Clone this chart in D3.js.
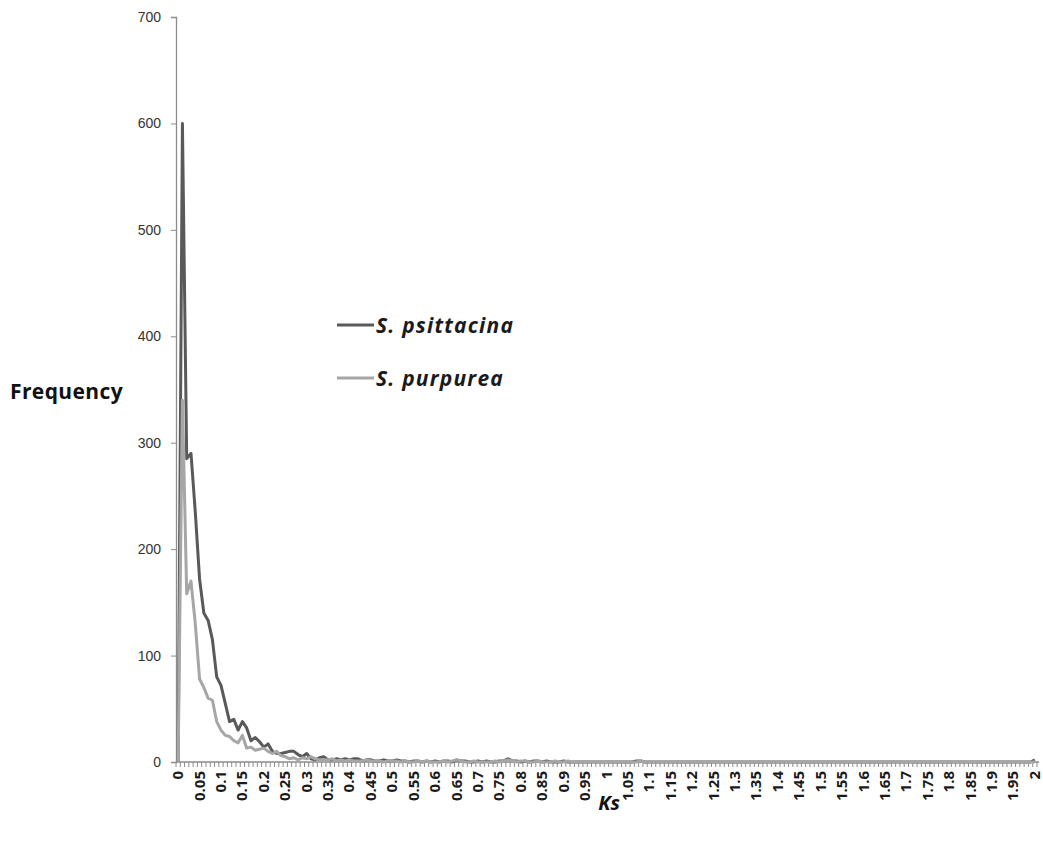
<!DOCTYPE html>
<html>
<head>
<meta charset="utf-8">
<script src="https://cdn.jsdelivr.net/npm/d3@7"></script>
<style>
  body { margin: 0; background: #fff; }
  svg { font-family: "Open Sans", sans-serif; }
</style>
</head>
<body>
<div id="chart"></div>
<script>
// Ks bins of 0.01 from 0 to 2
const ksBins = d3.range(0, 201).map((i) => +(i / 100).toFixed(2));
const yTicks = [0, 100, 200, 300, 400, 500, 600, 700];

const psittacina = [
  0, 600, 285, 290, 235, 172, 140, 133, 115, 80,
  72, 55, 38, 40, 30, 38, 32, 20, 23, 19,
  14, 17, 10, 8, 8, 9, 10, 10, 7, 5,
  8, 3, 2, 4, 5, 2, 2, 3, 2, 3,
  2, 3, 3, 1, 2, 2, 1, 1, 2, 1,
  1, 2, 1, 1, 0, 1, 1, 0, 1, 0,
  1, 0, 1, 1, 0, 2, 1, 1, 0, 0,
  1, 0, 1, 0, 0, 1, 1, 3, 1, 1,
  0, 1, 0, 1, 1, 0, 1, 0, 0, 0,
  1, 0, 0, 0, 0, 0, 0, 0, 0, 0,
  0, 0, 0, 0, 0, 0, 0, 1, 1, 0,
  0, 0, 0, 0, 0, 0, 0, 0, 0, 0,
  0, 0, 0, 0, 0, 0, 0, 0, 0, 0,
  0, 0, 0, 0, 0, 0, 0, 0, 0, 0,
  0, 0, 0, 0, 0, 0, 0, 0, 0, 0,
  0, 0, 0, 0, 0, 0, 0, 0, 0, 0,
  0, 0, 0, 0, 0, 0, 0, 0, 0, 0,
  0, 0, 0, 0, 0, 0, 0, 0, 0, 0,
  0, 0, 0, 0, 0, 0, 0, 0, 0, 0,
  0, 0, 0, 0, 0, 0, 0, 0, 0, 0,
  2
];

const purpurea = [
  0, 340, 158, 170, 130, 78, 70, 60, 58, 38,
  30, 25, 24, 20, 18, 25, 13, 14, 11, 12,
  13, 10, 8, 10, 6, 5, 3, 4, 2, 4,
  3, 5, 3, 2, 2, 2, 3, 1, 2, 1,
  2, 1, 1, 1, 2, 1, 1, 1, 0, 1,
  1, 1, 0, 1, 0, 0, 1, 0, 1, 0,
  0, 0, 1, 0, 1, 2, 1, 0, 0, 1,
  0, 0, 0, 0, 1, 0, 1, 2, 1, 0,
  1, 1, 0, 0, 1, 0, 0, 0, 1, 0,
  0, 1, 0, 0, 0, 0, 0, 0, 0, 0,
  0, 0, 0, 0, 0, 0, 0, 0, 1, 0,
  0, 0, 0, 0, 0, 0, 0, 0, 0, 0,
  0, 0, 0, 0, 0, 0, 0, 0, 0, 0,
  0, 0, 0, 0, 0, 0, 0, 0, 0, 0,
  0, 0, 0, 0, 0, 0, 0, 0, 0, 0,
  0, 0, 0, 0, 0, 0, 0, 0, 0, 0,
  0, 0, 0, 0, 0, 0, 0, 0, 0, 0,
  0, 0, 0, 0, 0, 0, 0, 0, 0, 0,
  0, 0, 0, 0, 0, 0, 0, 0, 0, 0,
  0, 0, 0, 0, 0, 0, 0, 0, 0, 0,
  0
];

const seriesNames = ["S. psittacina", "S. purpurea"];
const seriesColors = ["#595959", "#a6a6a6"];

const W = 1043, H = 842;
const margin = { top: 17, right: 6, bottom: 80, left: 176 };
const width = W - margin.left - margin.right;
const height = H - margin.top - margin.bottom;

const svg = d3.select("#chart").append("svg")
  .attr("width", W).attr("height", H);
const g = svg.append("g")
  .attr("transform", `translate(${margin.left},${margin.top})`);

const x = d3.scaleBand().domain(ksBins).range([0, width]).padding(0);
const y = d3.scaleLinear().domain([0, 700]).range([height, 0]);
const axisColor = "#8c8c8c";

// y axis
const yAxis = g.append("g")
  .call(d3.axisLeft(y).tickValues(yTicks).tickSize(5).tickPadding(10));
yAxis.select(".domain").attr("stroke", axisColor).attr("stroke-width", 1.3);
yAxis.selectAll(".tick line").attr("stroke", axisColor);
yAxis.selectAll("text").attr("fill", "#333").style("font-size", "14px");

// x axis: tick marks between categories, labels every 0.05
const xg = g.append("g").attr("transform", `translate(0,${height})`);
xg.append("line").attr("x1", 0).attr("x2", width + 2)
  .attr("stroke", axisColor).attr("stroke-width", 1.3);
xg.selectAll("line.tk").data(d3.range(ksBins.length + 1)).join("line")
  .attr("class", "tk")
  .attr("x1", (i) => i * x.step()).attr("x2", (i) => i * x.step())
  .attr("y1", 0).attr("y2", 5)
  .attr("stroke", axisColor);
xg.selectAll("text").data(ksBins.filter((d, i) => i % 5 === 0)).join("text")
  .attr("transform", (d) => `translate(${x(d) + x.bandwidth() / 2 + 5},9) rotate(-90)`)
  .attr("text-anchor", "end")
  .attr("font-weight", "bold")
  .attr("fill", "#1a1a1a")
  .style("font-size", "15px")
  .text((d) => String(d));

// lines
const line = d3.line()
  .x((d, i) => x(ksBins[i]) + x.bandwidth() / 2)
  .y((d) => y(d));
[psittacina, purpurea].forEach((s, k) => {
  g.append("path").datum(s)
    .attr("fill", "none")
    .attr("stroke", seriesColors[k])
    .attr("stroke-width", 3)
    .attr("stroke-linejoin", "round")
    .attr("d", line);
});

// legend
const legend = svg.append("g");
seriesNames.forEach((name, k) => {
  const ly = 325 + k * 53;
  legend.append("line").attr("x1", 337).attr("x2", 374)
    .attr("y1", ly).attr("y2", ly)
    .attr("stroke", seriesColors[k]).attr("stroke-width", 3);
  legend.append("text").attr("x", 376).attr("y", ly + 8)
    .attr("font-weight", "bold").attr("font-style", "italic")
    .attr("fill", "#1a1a1a")
    .style("font-size", "21px")
    .style("letter-spacing", "1.2px")
    .text(name);
});

// axis titles
svg.append("text").attr("x", 10).attr("y", 399)
  .attr("font-weight", "bold").attr("fill", "#111")
  .style("font-size", "21px")
  .style("letter-spacing", "0.4px")
  .text("Frequency");
svg.append("text").attr("x", 609).attr("y", 810)
  .attr("text-anchor", "middle")
  .attr("font-weight", "bold").attr("font-style", "italic").attr("fill", "#111")
  .style("font-size", "20px")
  .text("Ks");
</script>
</body>
</html>
